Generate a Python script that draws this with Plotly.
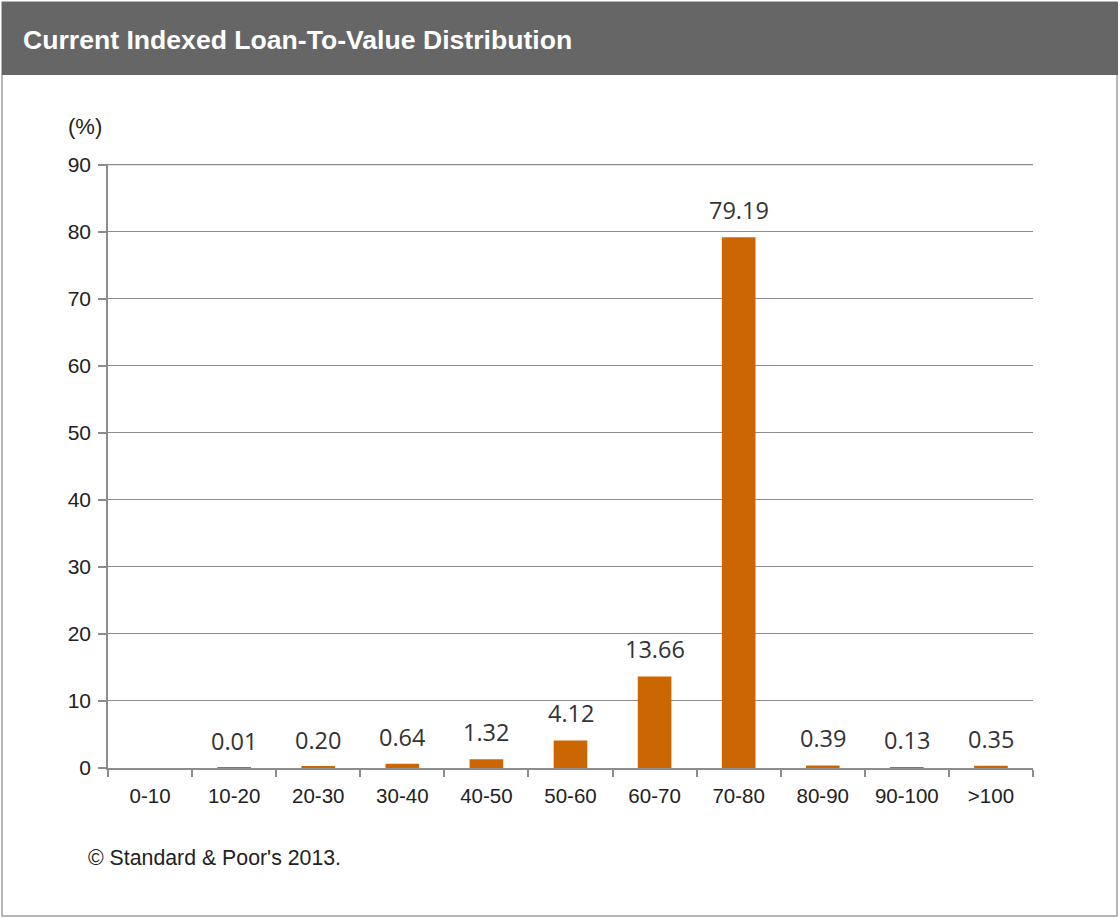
import plotly.graph_objects as go

categories = ["0-10", "10-20", "20-30", "30-40", "40-50", "50-60", "60-70", "70-80", "80-90", "90-100", ">100"]
values = [0.00, 0.01, 0.20, 0.64, 1.32, 4.12, 13.66, 79.19, 0.39, 0.13, 0.35]
labels = ["", "0.01", "0.20", "0.64", "1.32", "4.12", "13.66", "79.19", "0.39", "0.13", "0.35"]
y_ticks = [0, 10, 20, 30, 40, 50, 60, 70, 80, 90]
title_text = "Current Indexed Loan-To-Value Distribution"
unit_text = "(%)"
footer_text = "© Standard & Poor's 2013."

W, H = 1120, 918
ML, MR, MT, MB = 108, 87, 164, 150
PW, PH = W - ML - MR, H - MT - MB


def px(x):
    return (x - ML) / PW


def py(y):
    return (H - MB - y) / PH


fig = go.Figure()
fig.add_trace(go.Bar(
    x=categories, y=values,
    marker=dict(color="#cc6600", line=dict(width=0)),
    cliponaxis=False, hoverinfo="skip",
))

label_annotations = [
    dict(text=lab, x=cat, y=val, xref="x", yref="y", xanchor="center", yanchor="bottom",
         yshift=9, showarrow=False,
         font=dict(family="Open Sans", size=23.5, color="#333333"))
    for cat, val, lab in zip(categories, values, labels) if lab
]

fig.update_layout(
    width=W, height=H,
    margin=dict(l=ML, r=MR, t=MT, b=MB),
    paper_bgcolor="white", plot_bgcolor="white",
    bargap=0.6, showlegend=False,
    font=dict(family="Arial", size=20, color="#222222"),
    xaxis=dict(
        type="category", showgrid=False, showline=True, linecolor="#8c8c8c", linewidth=1.5,
        ticks="outside", tickson="boundaries", ticklen=7, tickcolor="#8c8c8c", tickwidth=1.5,
        tickfont=dict(family="Arial", size=20.5, color="#222222"),
        ticklabelstandoff=9,
    ),
    yaxis=dict(
        range=[0, 90.1], tickvals=y_ticks,
        showgrid=True, gridcolor="#8c8c8c", gridwidth=1.2,
        showline=True, linecolor="#8c8c8c", linewidth=1.5,
        ticks="outside", ticklen=8, tickcolor="#8c8c8c", tickwidth=1.5,
        tickfont=dict(family="Arial", size=21, color="#222222"),
        ticklabelstandoff=3,
        zeroline=False,
    ),
    shapes=[
        dict(type="rect", xref="paper", yref="paper",
             x0=px(2), x1=px(1117), y0=py(916), y1=py(2),
             line=dict(color="#a0a0a0", width=1.5), fillcolor="rgba(0,0,0,0)", layer="below"),
        dict(type="rect", xref="paper", yref="paper",
             x0=px(2), x1=px(1118), y0=py(75), y1=py(2),
             line=dict(width=0), fillcolor="#666666", layer="below"),
        dict(type="line", xref="paper", yref="y",
             x0=0, x1=1, y0=y_ticks[-1], y1=y_ticks[-1],
             line=dict(color="#8c8c8c", width=1.2), layer="below"),
    ],
    annotations=label_annotations + [
        dict(text="<b>" + title_text + "</b>", xref="paper", yref="paper",
             x=px(21), y=py(40), xanchor="left", yanchor="middle", showarrow=False,
             font=dict(family="Arial", size=26.6, color="white")),
        dict(text=unit_text, xref="paper", yref="paper",
             x=px(66), y=py(127), xanchor="left", yanchor="middle", showarrow=False,
             font=dict(family="Arial", size=22, color="#222222")),
        dict(text=footer_text, xref="paper", yref="paper",
             x=px(86), y=py(858), xanchor="left", yanchor="middle", showarrow=False,
             font=dict(family="Arial", size=21.3, color="#222222")),
    ],
)

fig.write_html("out.html")
